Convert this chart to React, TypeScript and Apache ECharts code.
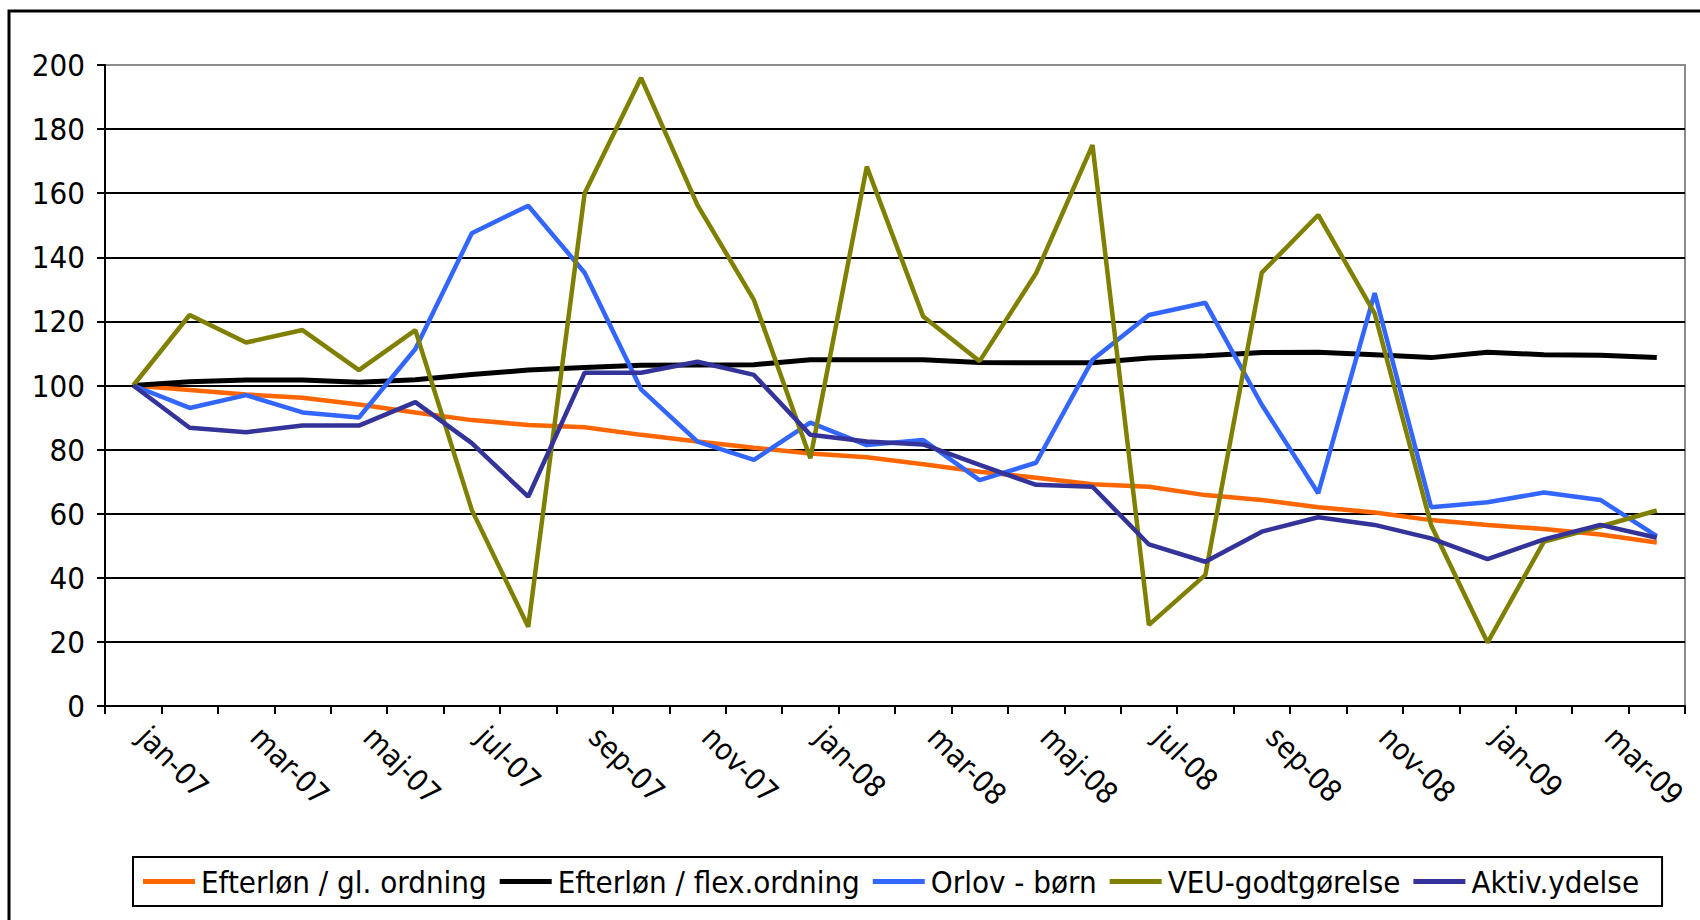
import React, { useEffect, useRef } from "react";
import * as echarts from "echarts";

const categories = [
  "jan-07", "feb-07", "mar-07", "apr-07", "maj-07", "jun-07", "jul-07", "aug-07", "sep-07", "okt-07", "nov-07", "dec-07",
  "jan-08", "feb-08", "mar-08", "apr-08", "maj-08", "jun-08", "jul-08", "aug-08", "sep-08", "okt-08", "nov-08", "dec-08",
  "jan-09", "feb-09", "mar-09", "apr-09",
];

const yTicks = { min: 0, max: 200, interval: 20 };

const efterlonGl = [100, 98.6, 97.2, 96.2, 94.1, 91.6, 89.2, 87.7, 87, 84.6, 82.5, 80.6, 78.8, 77.6, 75.4, 73.1, 71.2, 69.2, 68.4, 65.8, 64.3, 62, 60.4, 58, 56.5, 55.2, 53.5, 51];
const efterlonFlex = [100, 101.2, 101.7, 101.7, 101, 101.8, 103.4, 104.8, 105.6, 106.3, 106.4, 106.5, 108, 108, 108, 107.2, 107.1, 107.1, 108.6, 109.3, 110.3, 110.4, 109.6, 108.7, 110.4, 109.6, 109.4, 108.7];
const orlovBorn = [100, 93, 97, 91.6, 90, 111.4, 147.5, 156.1, 135.2, 98.8, 82.5, 76.8, 88.4, 81.4, 83, 70.5, 75.9, 108, 122, 125.8, 94, 66.4, 128.8, 62, 63.6, 66.6, 64.3, 53];
const veuGodtgorelse = [100, 122, 113.4, 117.3, 104.8, 117.3, 61.2, 24.7, 160, 196, 156.3, 126.7, 77.3, 168.3, 121.5, 107.6, 135, 175, 25.3, 40.9, 135.2, 153.2, 122.5, 56.5, 19.8, 51.3, 56, 61];
const aktivYdelse = [100, 86.8, 85.4, 87.5, 87.5, 94.8, 82, 65.3, 104, 104, 107.4, 103.3, 84.6, 82.5, 81.6, 75.2, 69, 68.4, 50.4, 45, 54.4, 58.9, 56.5, 52.3, 45.8, 52, 56.5, 52.5];

const seriesNames = ["Efterløn / gl. ordning", "Efterløn / flex.ordning", "Orlov - børn", "VEU-godtgørelse", "Aktiv.ydelse"];
const seriesColors = ["#FF6600", "#000000", "#3366FF", "#808000", "#333399"];
const seriesData = [efterlonGl, efterlonFlex, orlovBorn, veuGodtgorelse, aktivYdelse];

const FONT = "'DejaVu Sans Condensed', 'Liberation Sans', sans-serif";

export default function App() {
  const ref = useRef<HTMLDivElement>(null);

  useEffect(() => {
    if (!ref.current) return;
    const chart = echarts.init(ref.current, undefined, { renderer: "svg" });
    const nLines = (yTicks.max - yTicks.min) / yTicks.interval + 1;
    const splitColors = Array.from({ length: nLines }, (_, i) => (i === nLines - 1 ? "#8c8c8c" : "#000000"));
    chart.setOption({
      animation: false,
      backgroundColor: "#ffffff",
      grid: {
        left: 105,
        right: 15,
        top: 65,
        bottom: 214,
        show: true,
        borderColor: "#8c8c8c",
        borderWidth: 2,
        containLabel: false,
      },
      graphic: [
        {
          type: "rect",
          shape: { x: 9, y: 11, width: 1800, height: 1000 },
          style: { fill: "none", stroke: "#000000", lineWidth: 3 },
          silent: true,
          z: -1,
        },
      ],
      xAxis: {
        type: "category",
        data: categories,
        boundaryGap: true,
        axisLine: { show: true, lineStyle: { color: "#000000", width: 2 } },
        axisTick: { show: true, interval: 0, length: 8, lineStyle: { color: "#000000", width: 2 } },
        axisLabel: {
          interval: 1,
          rotate: -45,
          margin: 16,
          padding: [0, 0, 0, 14],
          color: "#000000",
          fontSize: 30,
          fontFamily: FONT,
        },
        splitLine: { show: false },
      },
      yAxis: {
        type: "value",
        min: yTicks.min,
        max: yTicks.max,
        interval: yTicks.interval,
        axisLine: { show: true, lineStyle: { color: "#000000", width: 2 } },
        axisTick: { show: true, length: 8, lineStyle: { color: "#000000", width: 2 } },
        axisLabel: { color: "#000000", fontSize: 31, fontFamily: FONT, margin: 20 },
        splitLine: { show: true, lineStyle: { color: splitColors, width: 2 } },
      },
      legend: {
        show: true,
        left: 133,
        top: 857,
        orient: "horizontal",
        icon: "rect",
        itemWidth: 52,
        itemHeight: 5,
        itemGap: 13,
        borderColor: "#000000",
        borderWidth: 2,
        padding: [9, 23, 9, 10],
        textStyle: { fontSize: 31, color: "#000000", fontFamily: FONT, padding: [0, 0, 0, 1] },
        data: seriesNames,
      },
      series: seriesData.map((d, i) => ({
        name: seriesNames[i],
        type: "line",
        data: d,
        showSymbol: false,
        symbol: "none",
        lineStyle: { color: seriesColors[i], width: i === 1 ? 5 : 4.5 },
        itemStyle: { color: seriesColors[i] },
        z: 2 + i,
      })),
    });
    return () => chart.dispose();
  }, []);

  return (
    <div
      ref={ref}
      style={{ position: "fixed", left: 0, top: 0, width: 1700, height: 920, background: "#fff" }}
    />
  );
}
